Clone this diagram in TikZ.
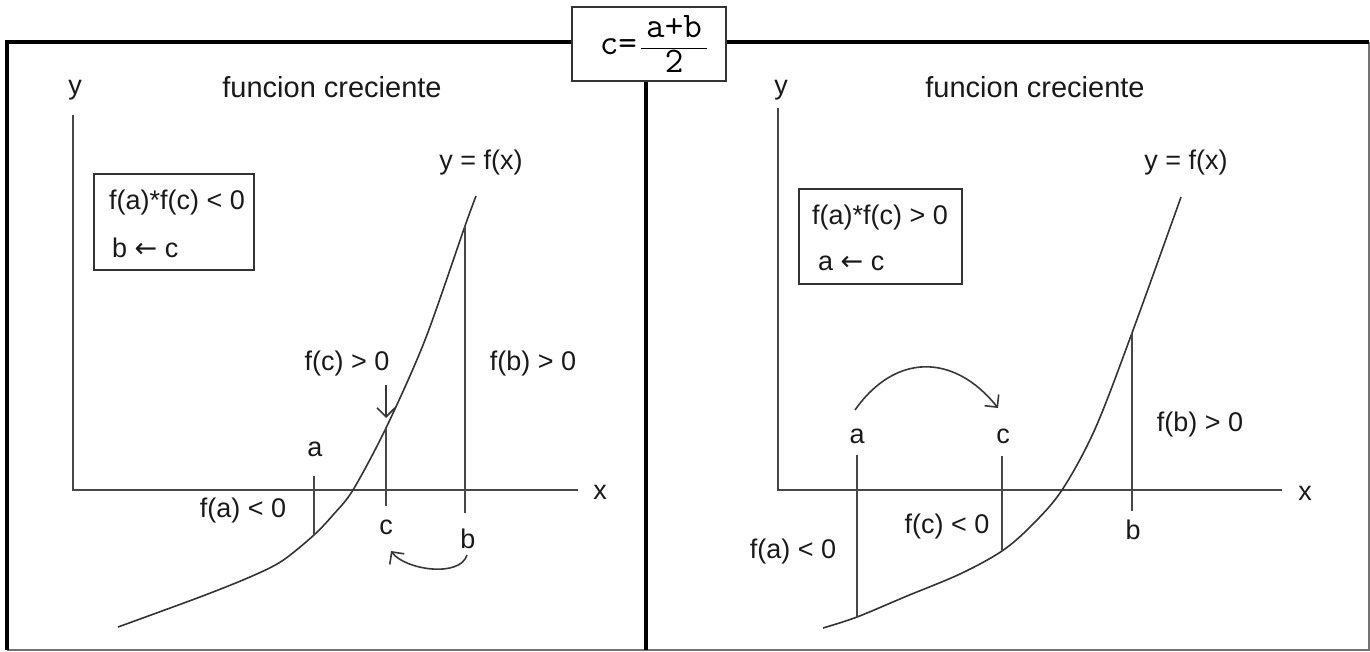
\documentclass[tikz,border=0pt]{standalone}
\usepackage{fontspec}
\setmainfont{Liberation Sans}
\newfontfamily\symfnt{DejaVu Sans}
\usetikzlibrary{arrows.meta}
\begin{document}
\begin{tikzpicture}[x=1pt,y=-1pt,
  lbl/.style={font=\fontsize{27}{32}\selectfont, inner sep=0pt, text=black!90},
  ttl/.style={font=\fontsize{29}{34}\selectfont, inner sep=0pt, text=black!90},
  axis/.style={line width=2pt, draw=black!72},
  vline/.style={line width=2pt, draw=black!72},
  fcurve/.style={line width=1.6pt, draw=black!80},
  frame/.style={line width=4pt, draw=black},
  thinframe/.style={line width=1.5pt, draw=black!55},
  condbox/.style={draw=black!80, line width=2pt, inner sep=0pt},
  fbox/.style={draw=black!80, line width=2pt, fill=white, inner sep=0pt,
    minimum width=154pt, minimum height=74pt},
  arr/.style={line width=1.6pt, draw=black!78, -{Straight Barb[length=9pt,width=18pt]}},
]
\useasboundingbox (0,0) rectangle (1370,652);

% frame
\coordinate (ftl) at (7,42);
\coordinate (ftr) at (1369,42);
\coordinate (fbl) at (7,650);
\coordinate (fbr) at (1369,650);
\draw[thinframe] (ftr) -- (fbr) -- (fbl);
\draw[frame] (fbl) -- (ftl) -- (ftr);
\node[fbox] (form) at (649,44) {\hspace{10pt}\ttfamily\fontsize{36}{40}\selectfont c=\hspace{3pt}$\displaystyle\frac{\hbox to 66pt{\hss a+b\hss}}{\hbox{2}}$};
\coordinate (divbot) at (646,650);
\draw[frame] (form.south -| divbot) -- (divbot);

% ---------- left panel ----------
\coordinate (Lo) at (73,490);
\coordinate (Lytop) at (73,115);
\coordinate (Lxend) at (578,490);
\draw[axis] (Lytop) -- (Lo) -- (Lxend);
\node[lbl] (Ly) at (75,90) {y};
\node[lbl] (Lx) at (600,492) {x};
\node[ttl] (Lt) at (332,87) {funcion creciente};
\node[lbl] (Lyf) at (481,163) {y = f(x)};
\node[condbox, minimum width=160pt, minimum height=96pt] (Lbox) at (174,222) {};
\node[lbl, anchor=west] (Lc1) at (109,203) {f(a)*f(c) < 0};
\node[lbl, anchor=west] (Lc2) at (112,248) {b {\symfnt ←} c};

\coordinate (La0) at (118,627);
\coordinate (Lk1) at (200,597);
\coordinate (Lk2) at (250,577);
\coordinate (Lk3) at (282,561);
\coordinate (Lfa) at (314,535);
\coordinate (Lk5) at (333,515);
\coordinate (Lz) at (353,490);
\coordinate (Lfc) at (386,428);
\coordinate (Lk6) at (425,340);
\coordinate (Lfb) at (465,226);
\coordinate (Lend) at (476,196);
\draw[fcurve] plot[smooth, tension=0.5] coordinates {(La0) (Lk1) (Lk2) (Lk3) (Lfa) (Lk5) (Lz) (Lfc) (Lk6) (Lfb) (Lend)};

\coordinate (Latop) at (314,476);
\coordinate (Lcbot) at (386,506);
\coordinate (Lbbot) at (465,513);
\draw[vline] (Latop) -- (Lfa);
\draw[vline] (Lfc) -- (Lcbot);
\draw[vline] (Lfb) -- (Lbbot);

\node[lbl] (La) at (315,449) {a};
\node[lbl] (Lcl) at (386,527) {c};
\node[lbl] (Lbl) at (468,539) {b};
\node[lbl] (Lfcg) at (347,364) {f(c) > 0};
\node[lbl] (Lfbg) at (533,364) {f(b) > 0};
\node[lbl] (Lfag) at (243,511) {f(a) < 0};

\coordinate (Lpa) at (386,385);
\coordinate (Lpb) at (386,418);
\draw[arr] (Lpa) -- (Lpb);
\coordinate (Lba) at (467,555);
\coordinate (Lbe) at (391,551);
\draw[arr] (Lba) .. controls (460,578) and (405,570) .. (Lbe);

% ---------- right panel ----------
\coordinate (Ro) at (778,490);
\coordinate (Rytop) at (778,108);
\coordinate (Rxend) at (1282,490);
\draw[axis] (Rytop) -- (Ro) -- (Rxend);
\node[lbl] (Ry) at (781,90) {y};
\node[lbl] (Rx) at (1305,493) {x};
\node[ttl] (Rt) at (1035,87) {funcion creciente};
\node[lbl] (Ryf) at (1186,163) {y = f(x)};
\node[condbox, minimum width=163pt, minimum height=95pt] (Rbox) at (880.5,236.5) {};
\node[lbl, anchor=west] (Rc1) at (812,218) {f(a)*f(c) > 0};
\node[lbl, anchor=west] (Rc2) at (818,263) {a {\symfnt ←} c};

\coordinate (Ra0) at (823,628);
\coordinate (Rfa) at (857,617);
\coordinate (Rk1) at (907,596);
\coordinate (Rk2) at (960,574);
\coordinate (Rfc) at (1002,551);
\coordinate (Rk3) at (1032,525);
\coordinate (Rz) at (1062,490);
\coordinate (Rk4) at (1095,429);
\coordinate (Rfb) at (1132,333);
\coordinate (Rend) at (1181,197);
\draw[fcurve] plot[smooth, tension=0.55] coordinates {(Ra0) (Rfa) (Rk1) (Rk2) (Rfc) (Rk3) (Rz) (Rk4) (Rfb) (Rend)};

\coordinate (Ratop) at (857,455);
\coordinate (Rctop) at (1002,456);
\coordinate (Rbbot) at (1132,511);
\draw[vline] (Ratop) -- (Rfa);
\draw[vline] (Rctop) -- (Rfc);
\draw[vline] (Rfb) -- (Rbbot);

\node[lbl] (Ral) at (857,436) {a};
\node[lbl] (Rcl) at (1003,436) {c};
\node[lbl] (Rbl) at (1133,530) {b};
\node[lbl] (Rfbg) at (1200,425) {f(b) > 0};
\node[lbl] (Rfcg) at (947,527) {f(c) < 0};
\node[lbl] (Rfag) at (793,552) {f(a) < 0};

\coordinate (Rpa) at (855,410);
\coordinate (Rpe) at (998,408);
\draw[arr] (Rpa) .. controls (895,353) and (954,353) .. (Rpe);
\end{tikzpicture}
\end{document}
